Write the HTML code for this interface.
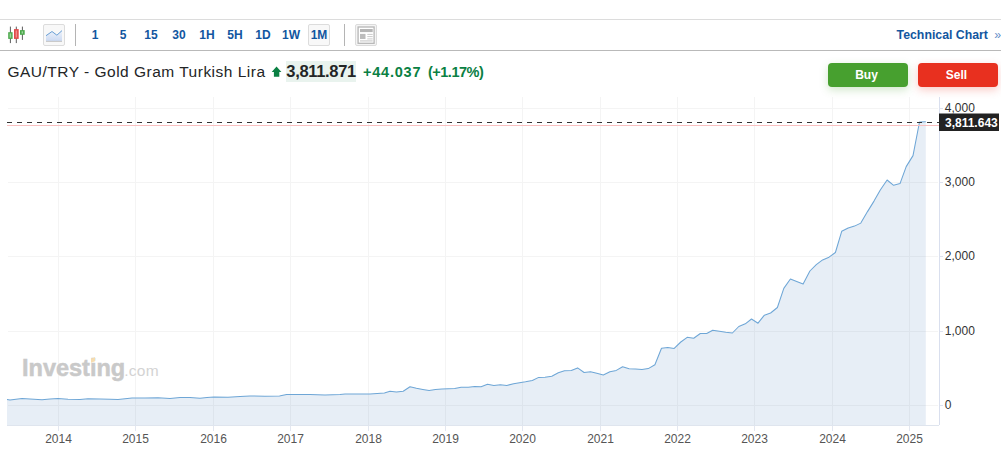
<!DOCTYPE html>
<html><head><meta charset="utf-8">
<style>
html,body{margin:0;padding:0;background:#fff;}
body{width:1001px;height:471px;position:relative;overflow:hidden;font-family:"Liberation Sans",sans-serif;}
.abs{position:absolute;}
.chart{position:absolute;left:0;top:0;}
.chart text{font-family:"Liberation Sans",sans-serif;}
.yl{font-size:12px;fill:#333;}
.xl{font-size:12px;fill:#555;}
.pl{font-size:12px;font-weight:bold;fill:#fff;}
.tb{position:absolute;top:28px;height:14px;line-height:14px;font-size:12px;font-weight:bold;color:#1256a0;text-align:center;width:28px;}
.box{position:absolute;box-sizing:border-box;width:22px;height:22px;top:24px;border:1px solid #dcdcdc;border-radius:2px;background:#f8f8f8;}
.sep{position:absolute;top:24px;width:1px;height:22px;background:#b4b4b4;}
.btn{position:absolute;top:63px;width:80px;height:24px;border-radius:4px;color:#fff;font-weight:bold;font-size:12px;line-height:24px;text-align:center;text-indent:-3px;}
</style></head><body>
<div class="abs" style="left:0;top:19px;width:1001px;height:1px;background:#dcdcdc"></div>
<div class="abs" style="left:0;top:50px;width:1001px;height:1px;background:#b9b9b9"></div>

<!-- candle icon -->
<svg class="abs" style="left:0;top:20px" width="30" height="30" viewBox="0 20 30 30">
<path d="M10.4 26.6V43.1M16.3 26.6V43.1M22.4 26.6V39.9" stroke="#4a4a4a" stroke-width="0.9"/>
<rect x="8.2" y="32.2" width="4.4" height="6.7" fill="#4aa84a"/>
<rect x="9.6" y="33.4" width="1.6" height="4.3" fill="#9fd49f"/>
<rect x="14" y="29.1" width="4.7" height="9.8" fill="#e04a4a"/>
<rect x="15.6" y="30.5" width="1.5" height="7" fill="#ee8a8a"/>
<rect x="20" y="30.1" width="4.7" height="4.7" fill="#4aa84a"/>
<rect x="21.6" y="31.3" width="1.5" height="2.3" fill="#9fd49f"/>
</svg>

<!-- line icon -->
<div class="box" style="left:43px"></div>
<svg class="abs" style="left:43px;top:24px" width="22" height="22" viewBox="43 24 22 22">
<defs><linearGradient id="lg" x1="0" y1="0" x2="0" y2="1"><stop offset="0" stop-color="#eef3fb"/><stop offset="1" stop-color="#ccdaf2"/></linearGradient></defs>
<polygon points="46,35.7 52,31.5 56.9,35.2 62,30.6 62,41 46,41" fill="url(#lg)"/>
<polyline points="46,35.7 52,31.5 56.9,35.2 62,30.6" fill="none" stroke="#6099d2" stroke-width="0.95"/>
<path d="M46 41.4H62" stroke="#bdbdbd" stroke-width="0.9"/>
</svg>

<div class="sep" style="left:75px"></div>
<div class="tb" style="left:81px">1</div>
<div class="tb" style="left:109px">5</div>
<div class="tb" style="left:137px">15</div>
<div class="tb" style="left:165px">30</div>
<div class="tb" style="left:193px">1H</div>
<div class="tb" style="left:221px">5H</div>
<div class="tb" style="left:249px">1D</div>
<div class="tb" style="left:277px">1W</div>
<div class="box" style="left:308px"></div>
<div class="tb" style="left:305px">1M</div>
<div class="sep" style="left:344px"></div>

<!-- table icon -->
<div class="box" style="left:355px;background:#f4f4f4"></div>
<svg class="abs" style="left:355px;top:24px" width="22" height="22" viewBox="355 24 22 22">
<rect x="358.1" y="27" width="16" height="16.3" fill="#fff" stroke="#b6b6b6" stroke-width="1.3"/>
<rect x="360" y="29" width="12.7" height="3.1" fill="#b5b5b5"/>
<rect x="360" y="33.9" width="5.5" height="5.1" fill="#bcbcbc"/>
<path d="M367.3 34.4H372.7M367.3 36.6H372.7M367.3 38.9H372.7" stroke="#c4c4c4" stroke-width="0.9"/>
<rect x="360" y="40.2" width="12.7" height="1.4" fill="#d4d4d4"/>
</svg>

<div class="abs" id="tech" style="right:0px;top:27px;height:16px;line-height:16px;font-size:12.3px;font-weight:bold;color:#1256a0;white-space:nowrap">Technical Chart <span style="font-weight:normal;color:#5f8dc8;margin-left:2.8px">»</span></div>

<!-- title row -->
<div class="abs" id="title" style="left:7.5px;top:61.5px;height:20px;line-height:20px;font-size:15.5px;color:#232526;white-space:nowrap;letter-spacing:0.49px">GAU/TRY - Gold Gram Turkish Lira</div>
<svg class="abs" style="left:270px;top:65px" width="13" height="13" viewBox="0 0 13 13"><path d="M6.55 1.5L11.4 7H9.3V11.8H3.9V7H1.7Z" fill="#0a8043"/></svg>
<div class="abs" style="left:286px;top:61px;width:70px;height:21px;background:#e9f3ee"></div>
<div class="abs" id="price" style="left:286.3px;top:61.2px;height:20px;line-height:20px;letter-spacing:-0.32px;font-size:16.5px;font-weight:bold;color:#232526;white-space:nowrap">3,811.871</div>
<div class="abs" id="chg" style="left:363px;top:61.7px;height:20px;line-height:20px;font-size:14.5px;font-weight:bold;color:#0a8043;white-space:nowrap;letter-spacing:0.78px">+44.037</div>
<div class="abs" id="pct" style="left:428px;top:61.7px;height:20px;line-height:20px;font-size:14.5px;font-weight:bold;color:#0a8043;white-space:nowrap;letter-spacing:-0.5px">(+1.17%)</div>

<div class="btn" style="left:828px;background:#47a02f;box-shadow:0 3px 8px rgba(71,160,47,0.25)">Buy</div>
<div class="btn" style="left:918px;background:#e8301f;box-shadow:0 3px 8px rgba(232,48,31,0.25)">Sell</div>

<svg class="chart" width="1001" height="471" viewBox="0 0 1001 471">
<path d="M58.5 97V425" stroke="#f4f4f4" stroke-width="1"/>
<path d="M58.5 425V431" stroke="#e3e7f0" stroke-width="1"/>
<path d="M135.5 97V425" stroke="#f4f4f4" stroke-width="1"/>
<path d="M135.5 425V431" stroke="#e3e7f0" stroke-width="1"/>
<path d="M213.5 97V425" stroke="#f4f4f4" stroke-width="1"/>
<path d="M213.5 425V431" stroke="#e3e7f0" stroke-width="1"/>
<path d="M290.5 97V425" stroke="#f4f4f4" stroke-width="1"/>
<path d="M290.5 425V431" stroke="#e3e7f0" stroke-width="1"/>
<path d="M368.5 97V425" stroke="#f4f4f4" stroke-width="1"/>
<path d="M368.5 425V431" stroke="#e3e7f0" stroke-width="1"/>
<path d="M445.5 97V425" stroke="#f4f4f4" stroke-width="1"/>
<path d="M445.5 425V431" stroke="#e3e7f0" stroke-width="1"/>
<path d="M522.5 97V425" stroke="#f4f4f4" stroke-width="1"/>
<path d="M522.5 425V431" stroke="#e3e7f0" stroke-width="1"/>
<path d="M600.5 97V425" stroke="#f4f4f4" stroke-width="1"/>
<path d="M600.5 425V431" stroke="#e3e7f0" stroke-width="1"/>
<path d="M677.5 97V425" stroke="#f4f4f4" stroke-width="1"/>
<path d="M677.5 425V431" stroke="#e3e7f0" stroke-width="1"/>
<path d="M754.5 97V425" stroke="#f4f4f4" stroke-width="1"/>
<path d="M754.5 425V431" stroke="#e3e7f0" stroke-width="1"/>
<path d="M832.5 97V425" stroke="#f4f4f4" stroke-width="1"/>
<path d="M832.5 425V431" stroke="#e3e7f0" stroke-width="1"/>
<path d="M909.5 97V425" stroke="#f4f4f4" stroke-width="1"/>
<path d="M909.5 425V431" stroke="#e3e7f0" stroke-width="1"/>
<path d="M8 108.5H938" stroke="#f4f4f4" stroke-width="1"/>
<path d="M939 108.5H943" stroke="#dde2ef" stroke-width="1"/>
<path d="M8 182.5H938" stroke="#f4f4f4" stroke-width="1"/>
<path d="M939 182.5H943" stroke="#dde2ef" stroke-width="1"/>
<path d="M8 256.5H938" stroke="#f4f4f4" stroke-width="1"/>
<path d="M939 256.5H943" stroke="#dde2ef" stroke-width="1"/>
<path d="M8 331.5H938" stroke="#f4f4f4" stroke-width="1"/>
<path d="M939 331.5H943" stroke="#dde2ef" stroke-width="1"/>
<path d="M8 405.5H938" stroke="#f4f4f4" stroke-width="1"/>
<path d="M939 405.5H943" stroke="#dde2ef" stroke-width="1"/>
<polygon points="7,425.5 7.0,399.6 10.0,400.0 16.0,399.2 22.0,398.6 30.0,399.0 42.0,399.7 50.0,399.0 58.0,398.5 68.0,399.2 80.0,399.5 88.0,398.8 100.0,399.0 110.0,399.3 118.0,399.5 125.0,398.8 132.0,398.0 145.0,397.9 158.0,397.8 170.0,398.4 180.0,397.5 190.0,397.6 200.0,398.3 207.0,397.6 214.0,396.9 228.0,397.2 240.0,396.6 250.0,396.0 265.0,396.2 279.5,396.0 286.5,394.5 310.0,394.5 325.0,394.9 340.0,394.6 345.0,394.1 358.0,393.9 370.0,393.9 384.4,393.1 390.0,391.3 396.4,392.0 403.2,391.2 410.0,386.7 416.4,388.3 422.8,389.4 429.1,390.4 435.5,389.4 442.0,389.1 448.3,388.8 454.7,388.5 461.1,387.3 468.3,387.3 474.7,386.4 481.1,386.7 487.5,384.3 493.9,385.6 500.3,384.8 506.8,385.4 513.6,383.8 519.5,382.7 525.5,381.8 532.3,380.5 538.7,377.4 545.0,377.2 551.8,376.2 558.3,372.7 564.5,370.8 571.3,370.6 577.6,367.9 584.1,372.5 590.5,371.8 596.8,373.3 603.3,374.9 609.9,371.8 616.3,370.4 622.6,366.7 629.1,368.7 635.5,369.1 642.0,369.6 648.3,368.6 654.9,364.8 661.5,348.2 667.8,347.4 674.2,348.4 680.8,342.0 687.2,337.3 693.7,338.2 700.3,333.5 706.7,333.5 712.7,330.2 719.4,331.2 725.8,332.2 732.4,333.0 738.8,326.5 745.3,323.8 751.5,319.0 758.0,323.2 764.4,315.2 770.6,313.0 777.4,307.5 783.8,288.4 790.4,279.0 796.7,281.6 803.1,284.1 809.9,271.0 816.3,264.6 822.6,259.9 829.0,257.2 835.4,252.5 841.7,231.3 848.2,228.0 854.5,226.1 860.8,223.1 867.5,211.6 874.0,201.1 880.3,190.0 887.1,180.0 893.6,185.3 900.0,183.6 906.2,166.6 913.0,155.6 919.5,122.0 925.8,121.8 925.8,425.5" fill="#5b8fc4" fill-opacity="0.15"/>
<polyline points="7.0,399.6 10.0,400.0 16.0,399.2 22.0,398.6 30.0,399.0 42.0,399.7 50.0,399.0 58.0,398.5 68.0,399.2 80.0,399.5 88.0,398.8 100.0,399.0 110.0,399.3 118.0,399.5 125.0,398.8 132.0,398.0 145.0,397.9 158.0,397.8 170.0,398.4 180.0,397.5 190.0,397.6 200.0,398.3 207.0,397.6 214.0,396.9 228.0,397.2 240.0,396.6 250.0,396.0 265.0,396.2 279.5,396.0 286.5,394.5 310.0,394.5 325.0,394.9 340.0,394.6 345.0,394.1 358.0,393.9 370.0,393.9 384.4,393.1 390.0,391.3 396.4,392.0 403.2,391.2 410.0,386.7 416.4,388.3 422.8,389.4 429.1,390.4 435.5,389.4 442.0,389.1 448.3,388.8 454.7,388.5 461.1,387.3 468.3,387.3 474.7,386.4 481.1,386.7 487.5,384.3 493.9,385.6 500.3,384.8 506.8,385.4 513.6,383.8 519.5,382.7 525.5,381.8 532.3,380.5 538.7,377.4 545.0,377.2 551.8,376.2 558.3,372.7 564.5,370.8 571.3,370.6 577.6,367.9 584.1,372.5 590.5,371.8 596.8,373.3 603.3,374.9 609.9,371.8 616.3,370.4 622.6,366.7 629.1,368.7 635.5,369.1 642.0,369.6 648.3,368.6 654.9,364.8 661.5,348.2 667.8,347.4 674.2,348.4 680.8,342.0 687.2,337.3 693.7,338.2 700.3,333.5 706.7,333.5 712.7,330.2 719.4,331.2 725.8,332.2 732.4,333.0 738.8,326.5 745.3,323.8 751.5,319.0 758.0,323.2 764.4,315.2 770.6,313.0 777.4,307.5 783.8,288.4 790.4,279.0 796.7,281.6 803.1,284.1 809.9,271.0 816.3,264.6 822.6,259.9 829.0,257.2 835.4,252.5 841.7,231.3 848.2,228.0 854.5,226.1 860.8,223.1 867.5,211.6 874.0,201.1 880.3,190.0 887.1,180.0 893.6,185.3 900.0,183.6 906.2,166.6 913.0,155.6 919.5,122.0 925.8,121.8" fill="none" stroke="#6ea6d6" stroke-width="1.05" stroke-linejoin="round"/>
<path d="M7 425.5H939" stroke="#dfe5ee" stroke-width="1"/>
<path d="M939.5 97V425" stroke="#d9dfee" stroke-width="1"/>
<path d="M7 125.5H939" stroke="#f9c0c0" stroke-width="1"/>
<path d="M7 122.5H939" stroke="#333" stroke-width="1.2" stroke-dasharray="5 5"/>
<text x="944.8" y="112.0" class="yl">4,000</text>
<text x="944.8" y="186.0" class="yl">3,000</text>
<text x="944.8" y="260.0" class="yl">2,000</text>
<text x="944.8" y="335.0" class="yl">1,000</text>
<text x="944.8" y="409.0" class="yl">0</text>
<text x="58.5" y="443" class="xl" text-anchor="middle">2014</text>
<text x="135.5" y="443" class="xl" text-anchor="middle">2015</text>
<text x="213.5" y="443" class="xl" text-anchor="middle">2016</text>
<text x="290.5" y="443" class="xl" text-anchor="middle">2017</text>
<text x="368.5" y="443" class="xl" text-anchor="middle">2018</text>
<text x="445.5" y="443" class="xl" text-anchor="middle">2019</text>
<text x="522.5" y="443" class="xl" text-anchor="middle">2020</text>
<text x="600.5" y="443" class="xl" text-anchor="middle">2021</text>
<text x="677.5" y="443" class="xl" text-anchor="middle">2022</text>
<text x="754.5" y="443" class="xl" text-anchor="middle">2023</text>
<text x="832.5" y="443" class="xl" text-anchor="middle">2024</text>
<text x="909.5" y="443" class="xl" text-anchor="middle">2025</text>
<rect x="939" y="113.5" width="60" height="17.5" fill="#222"/>
<text x="945" y="126.8" class="pl">3,811.643</text>
</svg>

<!-- watermark -->
<div class="abs" id="wm" style="left:22px;top:354px;height:28px;line-height:28px;white-space:nowrap;color:#c9c9c9"><span style="font-size:23.5px;font-weight:bold;letter-spacing:0px;-webkit-text-stroke:0.5px #c9c9c9">Investing</span><span style="font-size:15.5px;color:#d3d3d3;letter-spacing:0.3px;margin-left:-1px">.com</span></div>
<div class="abs" style="left:90.5px;top:358px;width:4px;height:4px;background:#f6dcae;transform:skewY(-20deg)"></div>
</body></html>
